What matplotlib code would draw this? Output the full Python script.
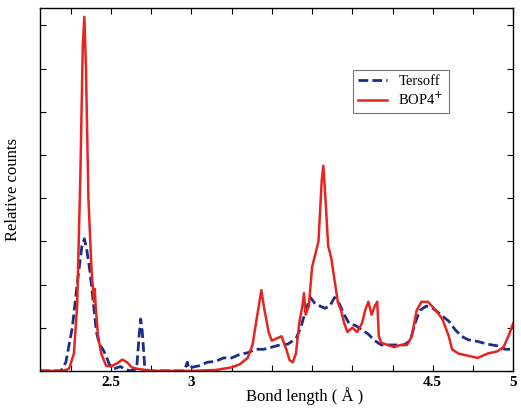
import numpy as np
import matplotlib
matplotlib.use('Agg')
import matplotlib.pyplot as plt
from matplotlib.ticker import FixedLocator, FuncFormatter

# Bond length distribution
bop_x = [2.06, 2.20, 2.24, 2.27, 2.29, 2.31, 2.325, 2.335, 2.345, 2.36, 2.38, 2.395, 2.40, 2.405,
         2.42, 2.44, 2.47, 2.50, 2.54, 2.57, 2.60, 2.63, 2.66, 2.70, 2.75, 3.00, 3.15, 3.25, 3.30,
         3.35, 3.38, 3.41, 3.435, 3.45, 3.48, 3.50, 3.53, 3.56, 3.59, 3.61, 3.63, 3.65, 3.67, 3.69,
         3.70, 3.71, 3.73, 3.75, 3.77, 3.79, 3.81, 3.82, 3.83, 3.85, 3.87, 3.89, 3.91, 3.93, 3.95,
         3.97, 4.00, 4.03, 4.06, 4.08, 4.10, 4.12, 4.14, 4.155, 4.165, 4.18, 4.22, 4.26, 4.30, 4.34,
         4.37, 4.40, 4.43, 4.47, 4.52, 4.56, 4.60, 4.62, 4.66, 4.72, 4.78, 4.84, 4.90, 4.94, 4.97, 5.00]
bop_y = [0, 0, 0.05, 0.4, 1.5, 4.5, 7.5, 8.2, 7.0, 4.0, 2.3, 1.6, 1.9, 1.5,
         0.8, 0.4, 0.12, 0.1, 0.18, 0.26, 0.2, 0.08, 0.05, 0.03, 0.0, 0.0, 0.02, 0.08, 0.15,
         0.3, 0.6, 1.3, 1.87, 1.5, 0.9, 0.7, 0.75, 0.8, 0.5, 0.25, 0.2, 0.4, 1.1, 1.5,
         1.8, 1.3, 1.5, 2.4, 2.7, 3.0, 4.4, 4.75, 4.2, 2.9, 2.6, 2.1, 1.6, 1.4, 1.1,
         0.9, 1.0, 0.9, 1.1, 1.4, 1.6, 1.3, 1.5, 1.6, 0.8, 0.65, 0.6, 0.55, 0.6, 0.6,
         0.8, 1.4, 1.6, 1.6, 1.4, 1.2, 0.8, 0.5, 0.4, 0.35, 0.3, 0.4, 0.45, 0.55, 0.8, 1.1]

ter_x = [2.06, 2.19, 2.22, 2.26, 2.29, 2.32, 2.335, 2.35, 2.37, 2.39, 2.41, 2.43, 2.45, 2.47,
         2.49, 2.52, 2.56, 2.58, 2.62, 2.66, 2.675, 2.685, 2.695, 2.71, 2.73, 2.95, 2.965, 2.975,
         2.985, 3.0, 3.05, 3.10, 3.15, 3.20, 3.25, 3.30, 3.35, 3.40, 3.45, 3.50, 3.55, 3.60, 3.65,
         3.68, 3.71, 3.74, 3.77, 3.80, 3.83, 3.86, 3.89, 3.92, 3.95, 3.98, 4.02, 4.06, 4.10, 4.14,
         4.18, 4.25, 4.32, 4.36, 4.39, 4.42, 4.46, 4.50, 4.55, 4.60, 4.64, 4.68, 4.72, 4.78, 4.84,
         4.90, 4.95, 4.98]
ter_y = [0, 0, 0.2, 1.0, 2.0, 2.9, 3.06, 2.8, 2.3, 1.6, 0.9, 0.6, 0.5, 0.35,
         0.15, 0.05, 0.1, 0.05, 0.0, 0.05, 0.8, 1.2, 0.9, 0.1, 0, 0, 0.1, 0.2,
         0.05, 0.08, 0.12, 0.2, 0.22, 0.3, 0.3, 0.38, 0.42, 0.5, 0.5, 0.55, 0.6, 0.62, 0.75,
         1.0, 1.4, 1.7, 1.55, 1.5, 1.45, 1.5, 1.7, 1.55, 1.3, 1.1, 1.05, 0.95, 0.85, 0.7,
         0.6, 0.6, 0.6, 0.7, 1.1, 1.4, 1.5, 1.45, 1.3, 1.15, 0.95, 0.8, 0.72, 0.68, 0.62,
         0.58, 0.5, 0.5]

x_labels = {2.5: '2.5', 3.0: '3', 4.5: '4.5', 5.0: '5'}

plt.rcParams['font.family'] = ['Liberation Serif', 'DejaVu Serif']

fig = plt.figure(figsize=(5.21, 4.08), dpi=100)
ax = fig.add_axes([0.077, 0.091, 0.908, 0.889])

ax.plot(ter_x, ter_y, color='#1c2f86', lw=2.0, ls=(0, (3.5, 1.5)), label='Tersoff')
ax.plot(bop_x, bop_y, color='#e62420', lw=1.8, label='BOP4$^{+}$')

ax.set_xlim(2.06, 5.0)
ax.set_ylim(0, 8.4)

xt = np.arange(2.25, 5.01, 0.25)
ax.xaxis.set_major_locator(FixedLocator(xt))
ax.xaxis.set_major_formatter(FuncFormatter(lambda v, p: x_labels.get(round(v, 2), '')))
ax.yaxis.set_major_locator(FixedLocator(np.arange(0, 9, 1)))
ax.set_yticklabels([])
ax.tick_params(direction='in', top=True, right=True, length=4, width=0.8,
               labelsize=11, pad=4)
for t in ax.get_xticklabels():
    t.set_fontweight('bold')

ax.set_xlabel('Bond length ( Å )', fontsize=12)
ax.xaxis.set_label_coords(0.56, -0.045)
ax.set_ylabel('Relative counts', fontsize=12)
ax.yaxis.set_label_coords(-0.04, 0.5)

leg = ax.legend(loc='upper left', bbox_to_anchor=(0.645, 0.85), fontsize=10.5,
                frameon=True, fancybox=False, handlelength=2.0, borderpad=0.35,
                labelspacing=0.2)
leg.get_frame().set_edgecolor('#555555')
leg.get_frame().set_linewidth(0.8)

for s in ax.spines.values():
    s.set_linewidth(1.0)

fig.savefig('out.png', dpi=100)
